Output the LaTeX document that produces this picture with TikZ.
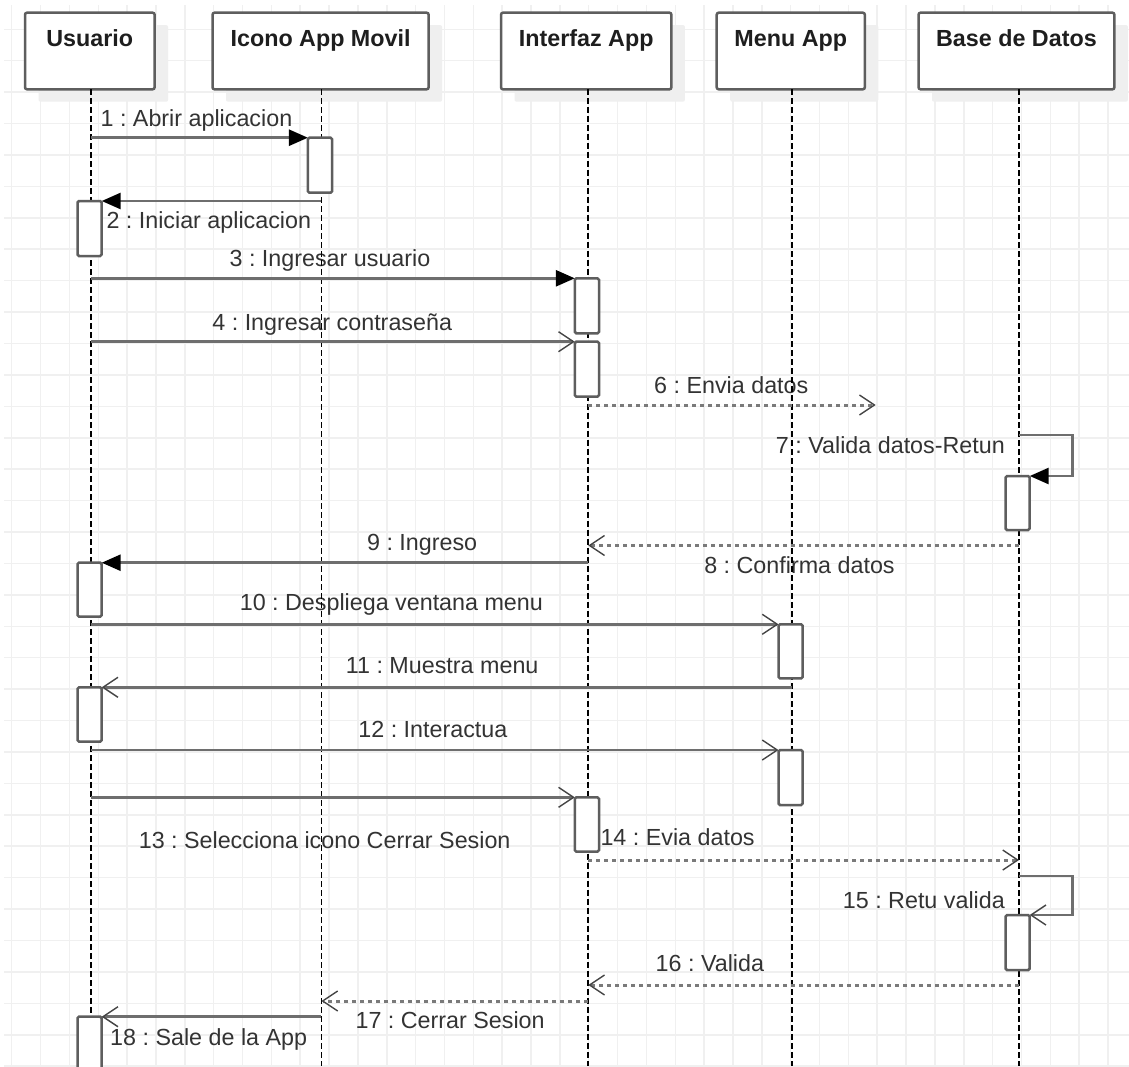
\documentclass[tikz,border=0pt]{standalone}
\usepackage{fontspec}
\setmainfont{Liberation Sans}
\usetikzlibrary{arrows.meta,shadows}
\frenchspacing

\definecolor{gridc}{HTML}{F0F0F0}
\definecolor{shadowc}{HTML}{EFEFEF}
\definecolor{framec}{HTML}{5E5E5E}
\definecolor{msgc}{HTML}{6E6E6E}
\definecolor{replyc}{HTML}{7A7A7A}
\definecolor{tipc}{HTML}{444444}
\definecolor{textc}{HTML}{333333}
\definecolor{headc}{HTML}{1E1E1E}

\tikzset{
  head/.style={draw=framec, line width=2.5pt, fill=white, rounded corners=2pt,
    inner xsep=0pt, inner ysep=0pt, outer sep=0pt, minimum height=76.6pt,
    text height=33.3pt, text depth=43.3pt,
    font=\bfseries\fontsize{23.3}{28}\selectfont, text=headc,
    drop shadow={shadow xshift=13.5pt, shadow yshift=-12.4pt, fill=shadowc, opacity=1}},
  life/.style={black, line width=1.8pt, dash pattern=on 5.5pt off 3.5pt},
  actbar/.style={draw=framec, line width=2.5pt, fill=white, rounded corners=1.5pt,
    inner sep=0pt, outer sep=0pt, minimum width=24.2pt, minimum height=55pt, anchor=north west},
  msglabel/.style={inner sep=0pt, anchor=base west, text=textc, font=\fontsize{23.3}{28}\selectfont},
  sync/.style={draw=msgc, line width=2.7pt,
    -{Triangle[length=19pt,width=16pt,color=black,fill=black]}},
  async/.style={draw=msgc, line width=2.7pt,
    -{Straight Barb[length=15pt,width=20pt,line width=1.4pt,color=tipc]}},
  reply/.style={async, draw=replyc, line width=3pt, dash pattern=on 4pt off 4pt},
}

\begin{document}
\begin{tikzpicture}[x=1pt,y=-1pt]
\useasboundingbox (0,0) rectangle (1129,1066);
\clip (0,0) rectangle (1129,1066);
\fill[white] (0,0) rectangle (1129,1066);

% background grid
\foreach \k in {0,...,38}
  \draw[gridc, line width=1.5pt] ({11.7+28.85*\k},5) -- ({11.7+28.85*\k},1066);
\foreach \k in {0,...,33}
  \draw[gridc, line width=1.5pt] (4,{29.3+31.42*\k}) -- (1129,{29.3+31.42*\k});

% participants
\node[head, minimum width=129.6pt] (usr) at (89.8,51) {Usuario};
\node[head, minimum width=216.1pt] (ico) at (320.55,51) {Icono App Movil};
\node[head, minimum width=170.4pt] (itf) at (586.2,51) {Interfaz App};
\node[head, minimum width=148.1pt] (men) at (790.75,51) {Menu App};
\node[head, minimum width=195.9pt] (bdd) at (1016.45,51) {Base de Datos};

% lifeline ends
\coordinate (usrL) at (91,89.3);    \coordinate (usrE) at (91,1066);
\coordinate (icoL) at (321.4,89.3); \coordinate (icoE) at (321.4,1066);
\coordinate (itfL) at (588.3,89.3); \coordinate (itfE) at (588.3,1066);
\coordinate (menL) at (792,89.3);   \coordinate (menE) at (792,1066);
\coordinate (bddL) at (1019,89.3);  \coordinate (bddE) at (1019,1066);

% message labels
\node[msglabel] (l1)  at (100.4,126.7) {1 : Abrir aplicacion};
\node[msglabel] (l2)  at (106.3,228)   {2 : Iniciar aplicacion};
\node[msglabel] (l3)  at (229.4,266.7) {3 : Ingresar usuario};
\node[msglabel] (l4)  at (212.2,330)   {4 : Ingresar contraseña};
\node[msglabel] (l6)  at (654,393.3)   {6 : Envia datos};
\node[msglabel, anchor=base east] (l7) at (1005,453.3) {7 : Valida datos-Retun};
\node[msglabel] (l8)  at (704.1,573.3) {8 : Confirma datos};
\node[msglabel] (l9)  at (366.9,550)   {9 : Ingreso};
\node[msglabel] (l10) at (239.6,610.7) {10 : Despliega ventana menu};
\node[msglabel] (l11) at (345.7,673.3) {11 : Muestra menu};
\node[msglabel] (l12) at (358.2,737.3) {12 : Interactua};
\node[msglabel] (l13) at (138.6,848.3) {13 : Selecciona icono Cerrar Sesion};
\node[msglabel] (l14) at (600.3,845)   {14 : Evia datos};
\node[msglabel, anchor=base east] (l15) at (1005,908.3) {15 : Retu valida};
\node[msglabel] (l16) at (655.5,971.7) {16 : Valida};
\node[msglabel] (l17) at (355.4,1028.3) {17 : Cerrar Sesion};
\node[msglabel] (l18) at (110,1045)    {18 : Sale de la App};

% lifelines
\draw[life] (usrL) -- (usrE);
\draw[life] (icoL) -- (icoE);
\draw[life] (itfL) -- (itfE);
\draw[life] (menL) -- (menE);
\draw[life] (bddL) -- (bddE);

% activation bars
\node[actbar] (ic1) at (307.9,137.7) {};
\node[actbar] (u1)  at (77.5,201) {};
\node[actbar] (f1)  at (574.8,278.3) {};
\node[actbar] (f2)  at (574.8,341.7) {};
\node[actbar, minimum height=54pt] (d1) at (1005.5,476) {};
\node[actbar, minimum height=54pt] (u2) at (77.5,562.7) {};
\node[actbar, minimum height=54pt] (m1) at (778.5,624.3) {};
\node[actbar, minimum height=54.4pt] (u3) at (77.5,687.3) {};
\node[actbar] (m2)  at (778.5,750) {};
\node[actbar, minimum height=54.4pt] (f3) at (574.8,797.3) {};
\node[actbar] (d2)  at (1005.5,915) {};
\node[actbar, minimum height=80pt] (u4) at (77.5,1016.7) {};

% messages
\draw[sync]  (usrL |- ic1.north west) -- (ic1.north west);
\draw[sync]  (icoL |- u1.north east) -- (u1.north east);
\draw[sync]  (usrL |- f1.north west) -- (f1.north west);
\draw[async] (usrL |- f2.north west) -- (f2.north west);
\coordinate (lost6) at (875.7,405);
\draw[reply] (itfL |- lost6) -- (lost6);
\coordinate (loop7) at (1072.3,435);
\draw[sync]  (bddL |- loop7) -- (loop7) |- (d1.north east);
\coordinate (y8) at (0,545.5);
\draw[reply] (bddL |- y8) -- (itfL |- y8);
\draw[sync]  (itfL |- u2.north east) -- (u2.north east);
\draw[async] (usrL |- m1.north west) -- (m1.north west);
\draw[async] (menL |- u3.north east) -- (u3.north east);
\draw[async] (usrL |- m2.north west) -- (m2.north west);
\draw[async] (usrL |- f3.north west) -- (f3.north west);
\coordinate (y14) at (0,860);
\draw[reply] (itfL |- y14) -- (bddL |- y14);
\coordinate (loop15) at (1072.3,876);
\draw[async] (bddL |- loop15) -- (loop15) |- (d2.north east);
\coordinate (y16) at (0,985);
\draw[reply] (bddL |- y16) -- (itfL |- y16);
\coordinate (y17) at (0,1001);
\draw[reply] (itfL |- y17) -- (icoL |- y17);
\draw[async] (icoL |- u4.north east) -- (u4.north east);
\end{tikzpicture}
\end{document}
